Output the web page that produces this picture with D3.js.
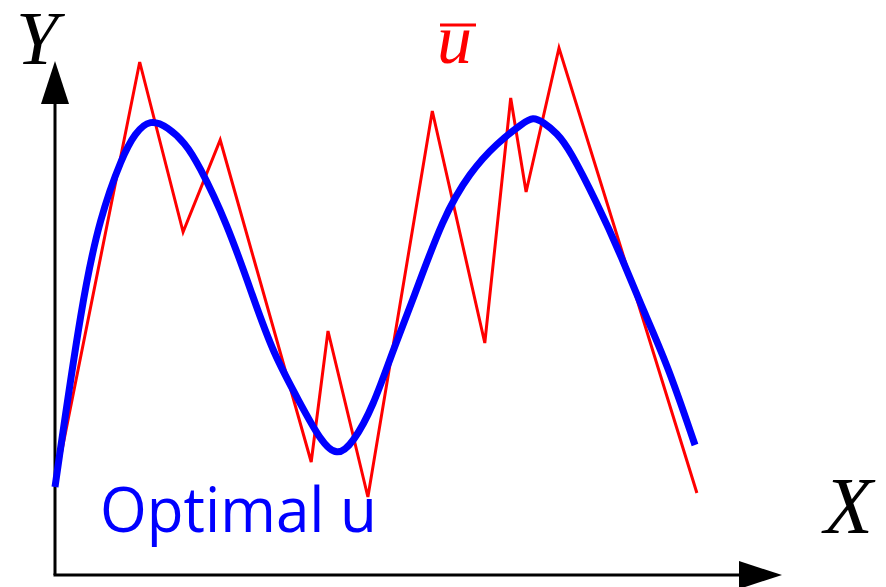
<!DOCTYPE html>
<html>
<head>
<meta charset="utf-8">
<script src="https://cdn.jsdelivr.net/npm/d3@7"></script>
<style>
  html, body { margin: 0; padding: 0; background: #fff; }
  svg { display: block; }
</style>
</head>
<body>
<svg id="chart" width="886" height="587"></svg>
<script>
// Piecewise-linear reference control u-bar (x, y in plot units)
const uBarX = [0, 12.1, 18.3, 23.6, 36.6, 39.0, 44.7, 53.9, 61.4, 65.1, 67.3, 72.0, 91.7];
const uBarY = [18, 102.6, 68.6, 87, 22.6, 48.8, 15.6, 92.8, 46.4, 95.4, 76.6, 105.4, 16.4];

// Smooth optimal control u sampled along x
const optX = [0, 3.86, 6.43, 9.57, 11.43, 13.57, 16.14, 18.57, 20.43, 24.57, 28.29, 31.14,
              35.0, 37.86, 40.29, 42.57, 45.43, 48.29, 51.14, 55.43, 59.29, 63.14, 66.86,
              68.29, 69.71, 71.71, 73.57, 77.43, 80.71, 83.57, 87.43, 91.43];
const optY = [17.6, 55, 71.6, 83.6, 88.4, 91.2, 89.6, 86.4, 82.4, 70.4, 55.6, 44.4,
              34.4, 27, 23.6, 26.4, 33.6, 45, 55, 71.6, 80.6, 86.4, 90.4,
              91.6, 90.6, 88.4, 85, 74.4, 64.4, 54.4, 42.4, 26];

// Axis and series labels
const axisLabels = { x: "X", y: "Y" };
const seriesLabels = { uBar: "u", optimal: "Optimal u" };

const svg = d3.select("#chart");

const x = d3.scaleLinear().domain([0, 100]).range([55, 755]);
const y = d3.scaleLinear().domain([0, 100]).range([575, 75]);

// Arrow heads for the axes
const defs = svg.append("defs");
defs.append("marker")
  .attr("id", "arrow")
  .attr("viewBox", "0 0 43 28")
  .attr("refX", 0).attr("refY", 14)
  .attr("markerWidth", 43).attr("markerHeight", 28)
  .attr("markerUnits", "userSpaceOnUse")
  .attr("orient", "auto")
  .append("path")
  .attr("d", "M0,0 L43,14 L0,28 Z")
  .attr("fill", "#000");

const axisG = svg.append("g");
// y axis
axisG.append("line")
  .attr("x1", x(0)).attr("y1", y(0))
  .attr("x2", x(0)).attr("y2", 104)
  .attr("stroke", "#000").attr("stroke-width", 3)
  .attr("marker-end", "url(#arrow)");
// x axis
axisG.append("line")
  .attr("x1", x(0) - 1.5).attr("y1", y(0))
  .attr("x2", 739).attr("y2", y(0))
  .attr("stroke", "#000").attr("stroke-width", 3)
  .attr("marker-end", "url(#arrow)");

// u-bar polyline
const uBarData = uBarX.map((v, i) => [v, uBarY[i]]);
svg.append("path")
  .datum(uBarData)
  .attr("fill", "none")
  .attr("stroke", "#ff0000")
  .attr("stroke-width", 3)
  .attr("stroke-linejoin", "miter")
  .attr("d", d3.line().x(d => x(d[0])).y(d => y(d[1])));

// optimal u curve (B-spline through the samples keeps it smooth)
const optData = optX.map((v, i) => [v, optY[i]]);
svg.append("path")
  .datum(optData)
  .attr("fill", "none")
  .attr("stroke", "#0000ff")
  .attr("stroke-width", 7)
  .attr("stroke-linecap", "butt")
  .attr("d", d3.line().x(d => x(d[0])).y(d => y(d[1])).curve(d3.curveBasis));

// axis labels
const serif = "'Liberation Serif', 'Times New Roman', serif";
svg.append("text")
  .attr("x", 16).attr("y", 64)
  .attr("font-family", serif).attr("font-style", "italic")
  .attr("font-size", 76)
  .text(axisLabels.y);
svg.append("text")
  .attr("x", 824).attr("y", 533)
  .attr("font-family", serif).attr("font-style", "italic")
  .attr("font-size", 80)
  .text(axisLabels.x);

// u-bar label with overline
svg.append("text")
  .attr("x", 437).attr("y", 63)
  .attr("font-family", serif).attr("font-style", "italic")
  .attr("font-size", 70)
  .attr("fill", "#ff0000")
  .text(seriesLabels.uBar);
svg.append("line")
  .attr("x1", 440).attr("x2", 476)
  .attr("y1", 25).attr("y2", 25)
  .attr("stroke", "#ff0000").attr("stroke-width", 3);

// optimal u label
svg.append("text")
  .attr("x", 100).attr("y", 532)
  .attr("font-family", "'Open Sans', 'Noto Sans', sans-serif")
  .attr("font-size", 62)
  .attr("fill", "#0000ff")
  .attr("textLength", 277)
  .attr("lengthAdjust", "spacingAndGlyphs")
  .text(seriesLabels.optimal);
</script>
</body>
</html>
